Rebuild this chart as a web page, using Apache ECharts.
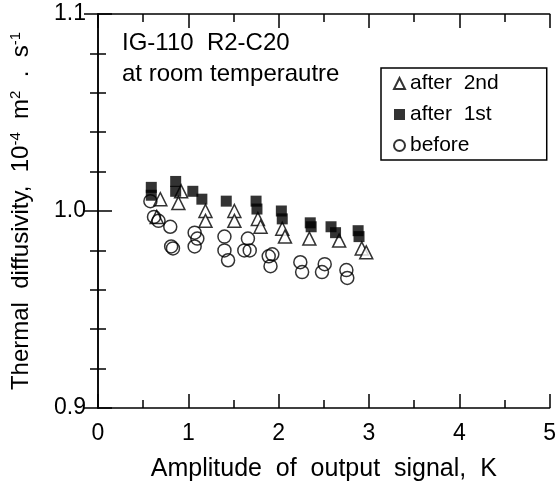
<!DOCTYPE html>
<html>
<head>
<meta charset="utf-8">
<script src="https://cdn.jsdelivr.net/npm/echarts@6/dist/echarts.min.js"></script>
<style>
  html, body { margin: 0; padding: 0; background: #fff; }
  #chart { width: 559px; height: 490px; }
</style>
</head>
<body>
<div id="chart"></div>
<script>
// after 2nd run (open triangles)
var after2nd = [
    [0.69, 1.006], [0.65, 0.997], [0.92, 1.010], [0.89, 1.004],
    [1.19, 1.000], [1.19, 0.995], [1.51, 1.000], [1.51, 0.995],
    [1.77, 0.996], [1.80, 0.992], [2.04, 0.991], [2.07, 0.987],
    [2.34, 0.986], [2.67, 0.985], [2.92, 0.981], [2.97, 0.979]
];
// after 1st run (filled squares)
var after1st = [
    [0.59, 1.012], [0.59, 1.008], [0.86, 1.015], [0.86, 1.010],
    [1.05, 1.010], [1.15, 1.006], [1.42, 1.005], [1.75, 1.005],
    [1.76, 1.001], [2.03, 1.000], [2.04, 0.996], [2.35, 0.994],
    [2.36, 0.992], [2.58, 0.992], [2.63, 0.989], [2.88, 0.990],
    [2.89, 0.987]
];
// before (open circles)
var before = [
    [0.58, 1.005], [0.62, 0.997], [0.67, 0.995], [0.80, 0.992],
    [0.81, 0.982], [0.83, 0.981], [1.07, 0.989], [1.10, 0.986],
    [1.07, 0.982], [1.40, 0.987], [1.40, 0.980], [1.44, 0.975],
    [1.66, 0.986], [1.62, 0.980], [1.68, 0.980], [1.89, 0.977],
    [1.93, 0.978], [1.91, 0.972], [2.24, 0.974], [2.26, 0.969],
    [2.51, 0.973], [2.48, 0.969], [2.75, 0.970], [2.76, 0.966]
];
var seriesNames = ['after  2nd', 'after  1st', 'before'];
var xTicks = [0, 5, 1];        // min, max, interval
var yTicks = [0.9, 1.1, 0.1];  // min, max, interval

var font = '"Liberation Sans", Arial, Helvetica, sans-serif';

function makeAxis(pos, range, minorSplit, showLabels) {
    return {
        type: 'value',
        position: pos,
        min: range[0],
        max: range[1],
        interval: range[2],
        axisLine: { show: true, lineStyle: { color: '#000', width: 1.5 } },
        axisTick: { show: true, inside: true, length: 14, lineStyle: { color: '#000', width: 1.5 } },
        minorTick: { show: true, splitNumber: minorSplit, length: 8, lineStyle: { color: '#000', width: 1.5 } },
        splitLine: { show: false },
        axisLabel: {
            show: showLabels,
            color: '#000',
            fontFamily: font,
            fontSize: 23,
            margin: pos === 'left' ? 12 : 14,
            formatter: function (v) {
                return pos === 'left' ? v.toFixed(1) : String(Math.round(v));
            }
        }
    };
}

var chart = echarts.init(document.getElementById('chart'));

var xBottom = makeAxis('bottom', xTicks, 2, true);
xBottom.name = 'Amplitude  of  output  signal,  K';
xBottom.nameLocation = 'middle';
xBottom.nameGap = 49;
xBottom.nameTextStyle = { color: '#000', fontFamily: font, fontSize: 25 };

var yLeft = makeAxis('left', yTicks, 5, true);
yLeft.name = 'Thermal  diffusivity,  10{sup|-4}  m{sup|2}  .  s{sup|-1}';
yLeft.nameLocation = 'middle';
yLeft.nameGap = 63;
yLeft.nameTextStyle = {
    color: '#000', fontFamily: font, fontSize: 24,
    rich: { sup: { fontFamily: font, fontSize: 15, color: '#000', padding: [0, 0, 12, 0] } }
};

var option = {
    backgroundColor: '#fff',
    animation: false,
    grid: { left: 93, right: 3, top: 14, bottom: 82 },
    xAxis: [xBottom, makeAxis('top', xTicks, 2, false)],
    yAxis: [yLeft, makeAxis('right', yTicks, 5, false)],
    legend: {
        orient: 'vertical',
        left: 381,
        top: 68,
        padding: [5, 48, 4, 12],
        borderColor: '#000',
        borderWidth: 1.5,
        borderRadius: 0,
        itemWidth: 11,
        itemHeight: 11,
        itemGap: 10,
        textStyle: { color: '#000', fontFamily: font, fontSize: 21 },
        data: seriesNames
    },
    graphic: [
        { type: 'text', left: 122, top: 31, style: { text: 'IG-110  R2-C20', fill: '#000', font: '24px ' + font } },
        { type: 'text', left: 122, top: 62, style: { text: 'at room temperautre', fill: '#000', font: '24px ' + font } }
    ],
    series: [{
        name: seriesNames[0],
        type: 'scatter',
        symbol: 'triangle',
        symbolSize: 13,
        itemStyle: { color: '#fff', borderColor: '#000', borderWidth: 1.5 },
        data: after2nd
    }, {
        name: seriesNames[1],
        type: 'scatter',
        symbol: 'rect',
        symbolSize: 11,
        itemStyle: { color: '#000', borderColor: '#000', borderWidth: 0 },
        data: after1st
    }, {
        name: seriesNames[2],
        type: 'scatter',
        symbol: 'circle',
        symbolSize: 13,
        itemStyle: { color: 'rgba(255,255,255,0)', borderColor: '#000', borderWidth: 1.5 },
        data: before
    }]
};

chart.setOption(option);
</script>
</body>
</html>
